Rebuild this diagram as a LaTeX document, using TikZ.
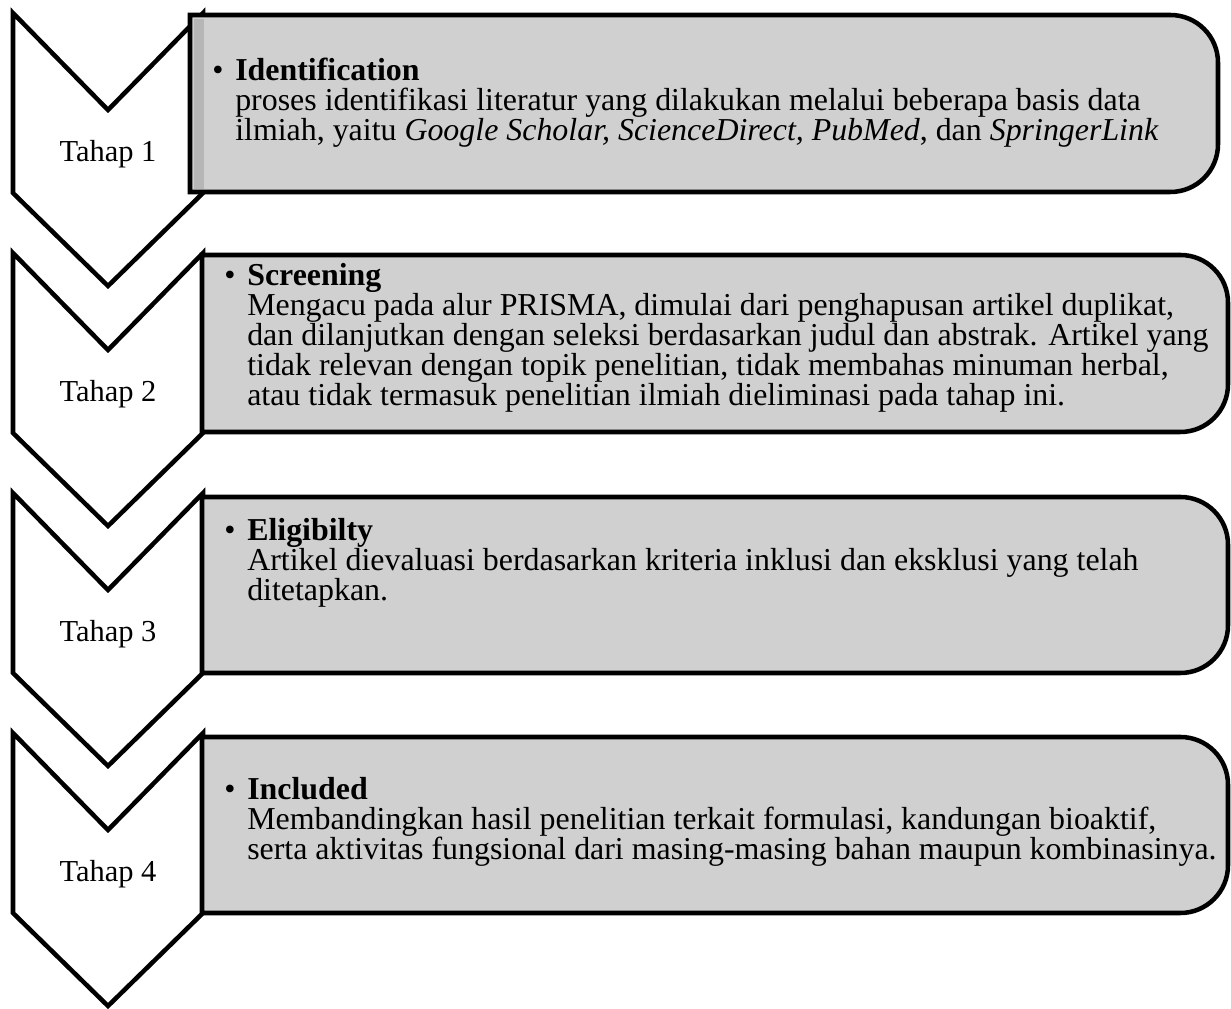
\documentclass[tikz,border=0pt]{standalone}
\usepackage{fontspec}
\setmainfont{Liberation Serif}
\definecolor{boxgray}{HTML}{D0D0D0}
\definecolor{stripgray}{HTML}{B6B6B6}
\begin{document}
\begin{tikzpicture}[x=0.42pt, y=-0.42pt, line width=1.9pt,
        chevron/.style={draw, fill=white, line join=miter},
        stagebox/.style={draw, fill=boxgray, line join=miter},
        tahaplabel/.style={anchor=base, inner sep=0pt, font=\fontsize{12.8}{12.6}\selectfont},
        bullettext/.style={anchor=base west, inner sep=0pt, font=\fontsize{13.4}{12.6}\selectfont},
        stagetext/.style={anchor=base west, inner sep=0pt, align=left, font=\fontsize{13.4}{12.6}\selectfont}]
        \useasboundingbox (0,0) rectangle (1231,1009);

        % Chevrons with stage labels
        \foreach \t/\n in {13/1, 253/2, 493/3, 733/4} {
            \draw[chevron] (13,\t) -- (108,\t+97) -- (203,\t) -- (203,\t+180) -- (108,\t+273) -- (13,\t+180) -- cycle;
            \node[tahaplabel] (tahap\n) at (108,\t+149) {Tahap \n};
        }

        % Boxes, rounded on the right side only
        \draw[stagebox] (190,192) -- (190,15) [rounded corners=20pt] -- (1218,15) -- (1218,192) [sharp corners] -- cycle;
        \fill[stripgray] (194,19) rectangle (204,189);
        \draw[stagebox] (202,432) -- (202,255) [rounded corners=20pt] -- (1228,255) -- (1228,432) [sharp corners] -- cycle;
        \draw[stagebox] (202,673) -- (202,497) [rounded corners=20pt] -- (1228,497) -- (1228,673) [sharp corners] -- cycle;
        \draw[stagebox] (202,913) -- (202,737) [rounded corners=20pt] -- (1228,737) -- (1228,913) [sharp corners] -- cycle;

        % Box texts (placed at the baseline of their last line)
        \node[bullettext] (dot1) at (210,81) {\textbullet};
        \node[stagetext] (identification) at (233,141) {\textbf{Identification}\\
            proses identifikasi literatur yang dilakukan melalui beberapa basis data\\
            ilmiah, yaitu \textit{Google Scholar, ScienceDirect, PubMed}, dan \textit{SpringerLink}};

        \node[bullettext] (dot2) at (222,286) {\textbullet};
        \node[stagetext] (screening) at (245,406) {\textbf{Screening}\\
            Mengacu pada alur PRISMA, dimulai dari penghapusan artikel duplikat,\\
            dan dilanjutkan dengan seleksi berdasarkan judul dan abstrak. Artikel yang\\
            tidak relevan dengan topik penelitian, tidak membahas minuman herbal,\\
            atau tidak termasuk penelitian ilmiah dieliminasi pada tahap ini.};

        \node[bullettext] (dot3) at (222,541) {\textbullet};
        \node[stagetext] (eligibility) at (245,601) {\textbf{Eligibilty}\\
            Artikel dievaluasi berdasarkan kriteria inklusi dan eksklusi yang telah\\
            ditetapkan.};

        \node[bullettext] (dot4) at (222,800) {\textbullet};
        \node[stagetext] (included) at (245,860) {\textbf{Included}\\
            Membandingkan hasil penelitian terkait formulasi, kandungan bioaktif,\\
            serta aktivitas fungsional dari masing-masing bahan maupun kombinasinya.};
\end{tikzpicture}
\end{document}
